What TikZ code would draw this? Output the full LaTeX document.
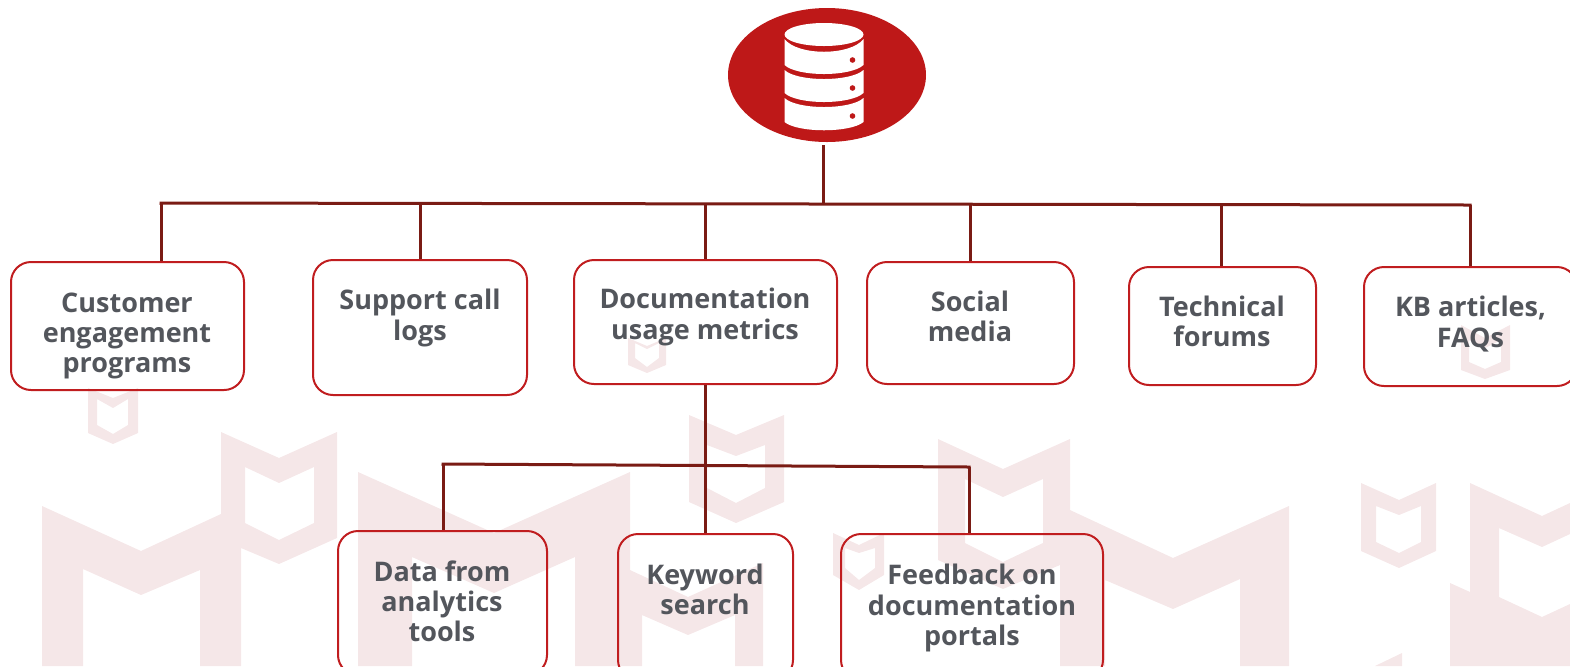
\documentclass[tikz,border=0pt]{standalone}
\usepackage{fontspec}
\usetikzlibrary{shapes.geometric}
\setmainfont{Open Sans}[BoldFont=* Bold]
\definecolor{wm}{HTML}{F5E7E8}
\definecolor{redbg}{HTML}{BE1818}
\definecolor{boxred}{HTML}{C01D1F}
\definecolor{conn}{HTML}{7A1B14}
\definecolor{txt}{HTML}{53565C}
\tikzset{
  wmark/.style={fill=wm,draw=none,even odd rule},
  boxst/.style={draw=boxred,line width=1pt,rounded corners=10pt,inner sep=0pt,fill=none},
  lbl/.style={text=txt,font=\bfseries\fontsize{13.5}{15.1}\selectfont,align=center,inner sep=0pt},
  link/.style={draw=conn,line width=1.5pt},
  icon/.style={fill=white,draw=none}
}
\begin{document}
\begin{tikzpicture}[x=0.5pt,y=-0.5pt]
\useasboundingbox (0,0) rectangle (1570,666);
\clip (0,0) rectangle (1570,666);
% watermark
\path[wmark] (42,506)--(141,551)--(221,514)--(221,432)--(279,458)--(337,432)--(337,538)--(279,564)--(241,548)--(241,666)--(200,666)--(200,570)--(141,595)--(83,569)--(83,666)--(42,666)--cycle
  (245,467)--(279,483)--(314,467)--(314,523)--(279,540)--(245,523)--cycle;
\path[wmark] (358,472)--(494,533)--(630,472)--(630,570)--(688,597)--(763,563)--(763,666)--(735,666)--(735,615)--(688,635)--(642,615)--(642,666)--(575,666)--(575,557)--(494,593)--(412,557)--(412,666)--(358,666)--cycle;
\path[wmark] (689,415)--(736,435)--(784,415)--(784,502)--(736,523)--(689,502)--cycle
  (707,445)--(736,456)--(765,445)--(765,488)--(736,503)--(707,488)--cycle;
\path[wmark] (88,388)--(113,398)--(138,388)--(138,433)--(113,444)--(88,433)--cycle
  (97,399)--(113,408)--(128,399)--(128,425)--(113,434)--(97,425)--cycle;
\path[wmark] (628,338)--(647,346)--(666,338)--(666,365)--(647,373)--(628,365)--cycle
  (635,343)--(647,349)--(659,343)--(659,358)--(647,367)--(635,358)--cycle;
\path[wmark] (1461,325)--(1485,338)--(1510,325)--(1510,370)--(1485,379)--(1461,370)--cycle
  (1469,340)--(1485,348)--(1501,340)--(1501,362)--(1485,369)--(1469,362)--cycle;
\path[wmark] (833,533)--(859,545)--(884,533)--(884,575)--(859,590)--(833,575)--cycle
  (845,548)--(859,553)--(875,548)--(875,568)--(859,580)--(845,568)--cycle;
\path[wmark] (938,439)--(1003,469)--(1070,439)--(1070,510)--(1173,558)--(1289,506)--(1289,666)--(1240,666)--(1240,579)--(1173,609)--(1105,580)--(1105,666)--(1060,666)--(1060,565)--(1003,589)--(938,560)--cycle
  (965,479)--(1003,497)--(1043,479)--(1043,543)--(1003,562)--(965,543)--cycle;
\path[wmark] (1361,483)--(1399,500)--(1436,483)--(1436,551)--(1399,568)--(1361,551)--cycle
  (1376,506)--(1399,515)--(1421,506)--(1421,542)--(1399,553)--(1376,542)--cycle;
\path[wmark] (1470,483)--(1542,516)--(1570,503)--(1570,666)--(1450,666)--(1450,583)--(1470,592)--cycle
  (1499,528)--(1542,547)--(1570,534)--(1570,604)--(1542,617)--(1499,597)--cycle;
\path[wmark] (1402,653)--(1402,666)--(1375,666)--cycle;
% database node
\node[ellipse,fill=redbg,draw=none,minimum width=99pt,minimum height=67pt,inner sep=0pt] (db) at (827,75) {};
\fill[icon] (824,34.5) ellipse [x radius=39.5,y radius=11.5];
\fill[icon] (784.5,39) .. controls (797.5,56) and (850.5,56) .. (863.5,39) -- (863.5,65) .. controls (850.5,77) and (797.5,77) .. (784.5,65) -- cycle;
\fill[icon] (784.5,70) .. controls (797.5,82) and (850.5,82) .. (863.5,70) -- (863.5,93) .. controls (850.5,105) and (797.5,105) .. (784.5,93) -- cycle;
\fill[icon] (784.5,98) .. controls (797.5,110) and (850.5,110) .. (863.5,98) -- (863.5,122) .. controls (850.5,133) and (797.5,133) .. (784.5,122) -- cycle;
\fill[redbg] (852.5,60) circle [radius=2.8] (852.5,88) circle [radius=2.8] (852.5,116) circle [radius=2.8];
% boxes
\node[boxst,minimum width=116.5pt,minimum height=64pt] (b1) at (127.5,326) {};
\node[boxst,minimum width=107pt,minimum height=67.5pt] (b2) at (420,327.5) {};
\node[boxst,minimum width=131.5pt,minimum height=62pt] (b3) at (705.5,322) {};
\node[boxst,minimum width=103.5pt,minimum height=61pt] (b4) at (970.5,323) {};
\node[boxst,minimum width=93.5pt,minimum height=59pt] (b5) at (1222.5,326) {};
\node[boxst,minimum width=106.5pt,minimum height=59.5pt] (b6) at (1470.5,326.5) {};
\node[boxst,minimum width=104.5pt,minimum height=72pt] (b7) at (442.5,603) {};
\node[boxst,minimum width=87.5pt,minimum height=73pt] (b8) at (705.5,607) {};
\node[boxst,minimum width=131pt,minimum height=73pt] (b9) at (972,607) {};
% labels
\node[lbl] (t1) at (127,336) {Customer\\engagement\\programs};
\node[lbl] (t2) at (420,318) {Support call\\logs};
\node[lbl] (t3) at (705,317) {Documentation\\usage metrics};
\node[lbl] (t4) at (970,316) {Social\\media};
\node[lbl] (t5) at (1222,321) {Technical\\forums};
\node[lbl] (t6) at (1470.5,324) {KB articles,\\FAQs};
\node[lbl] (t7) at (442,601.5) {Data from\\analytics\\tools};
\node[lbl] (t8) at (705,589) {Keyword\\search};
\node[lbl] (t9) at (972,608) {Feedback on\\documentation\\portals};
% connectors
\coordinate (stem) at (823.5,145);
\coordinate (busL) at (161,203);
\coordinate (busR) at (1470,205);
\coordinate (j0) at (823.5,204);
\coordinate (j2) at (420,203.4);
\coordinate (j3) at (705.5,203.8);
\coordinate (j4) at (970,204.2);
\coordinate (j5) at (1221,204.6);
\coordinate (subL) at (443,464);
\coordinate (subR) at (969,467);
\draw[link] (stem) -- (j0);
\draw[link,line cap=rect] (busL) -- (busR);
\draw[link] (busL) -- (busL |- b1.north);
\draw[link] (j2) -- (j2 |- b2.north);
\draw[link] (j3) -- (j3 |- b3.north);
\draw[link] (j4) -- (j4 |- b4.north);
\draw[link] (j5) -- (j5 |- b5.north);
\draw[link] (busR) -- (busR |- b6.north);
\draw[link] (b3.south) -- (b8.north);
\draw[link,line cap=rect] (subL) -- (subR);
\draw[link] (subL) -- (subL |- b7.north);
\draw[link] (subR) -- (subR |- b9.north);
\end{tikzpicture}
\end{document}
